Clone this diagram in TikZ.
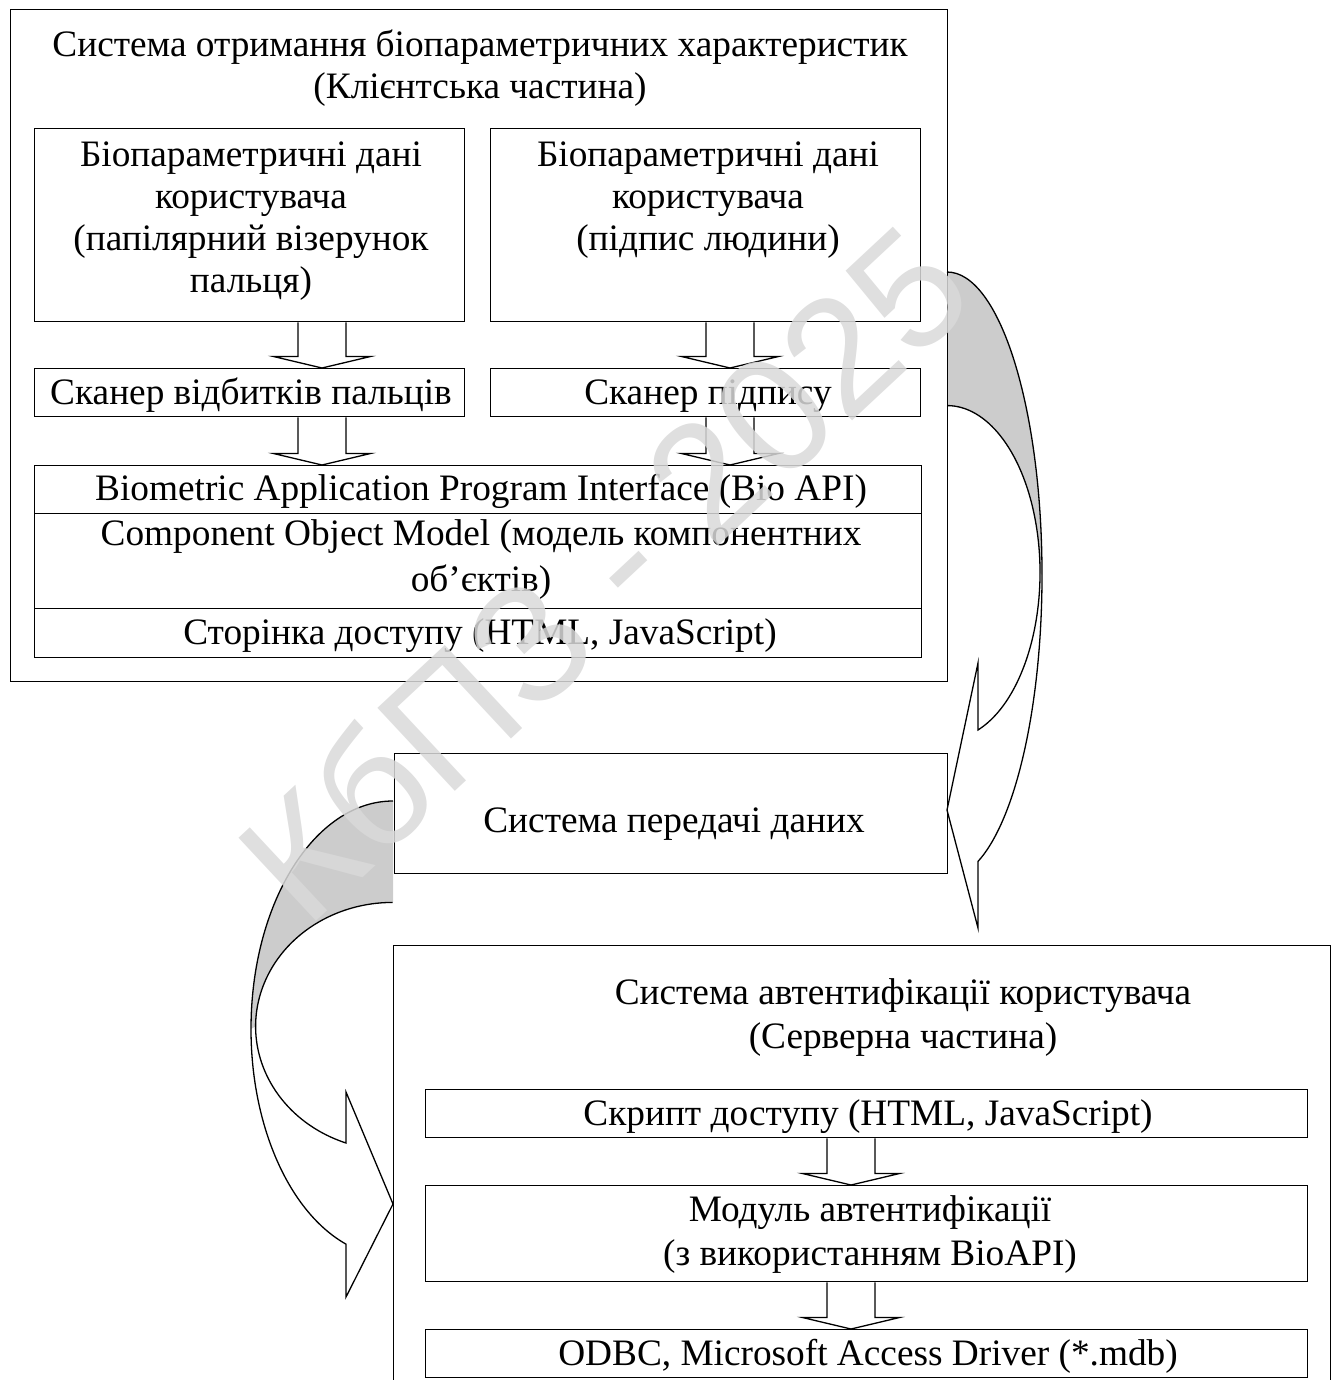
\documentclass[tikz,border=0pt]{standalone}
\usepackage{fontspec}
\setmainfont{Liberation Serif}
\newfontfamily\wmfont{Liberation Sans}
\usetikzlibrary{calc}
\newcommand{\blkarrow}[3]{%
  \draw[barrow] let \p1=(#2.south), \p2=(#3.north) in
    (#1pt-24pt,\y1) -- (#1pt-24pt,\y2+11.5pt) -- (#1pt-48.5pt,\y2+11.5pt) -- (#1pt,\y2)
    -- (#1pt+48.5pt,\y2+11.5pt) -- (#1pt+24pt,\y2+11.5pt) -- (#1pt+24pt,\y1);}
\begin{document}
\begin{tikzpicture}[x=1pt,y=1pt,
  box/.style={draw, line width=1.3pt, inner sep=0pt, anchor=north west},
  lbl/.style={inner sep=0pt, font=\fontsize{37.3}{42}\selectfont, align=center},
  barrow/.style={draw, line width=1.3pt, fill=white, line join=miter},
  curv/.style={draw, line width=1.3pt, line join=miter},
  shade/.style={fill=black!20},
  wm/.style={inner sep=0pt, font=\wmfont\fontsize{165}{165}\selectfont, text=black!15, text opacity=0.85}]
\useasboundingbox (0,0) rectangle (1336,-1380);

% curved arrows: shaded backs
\fill[shade] (947,-272) arc[start angle=90, end angle=0, x radius=95, y radius=303]
  -- (1040,-573) arc[start angle=0, end angle=90, x radius=93, y radius=167] -- cycle;
\fill[shade] (393,-801) arc[start angle=90, end angle=180, x radius=142, y radius=228]
  -- (256,-1026) arc[start angle=180, end angle=90, x radius=137, y radius=124] -- cycle;

% client part
\node[box, minimum width=937, minimum height=672] (client) at (10,-9) {};
\node[box, minimum width=430, minimum height=193] (dataA) at (34,-128) {};
\node[box, minimum width=430, minimum height=193] (dataB) at (490,-128) {};
\node[box, minimum width=430, minimum height=48] (scanA) at (34,-368) {};
\node[box, minimum width=430, minimum height=48] (scanB) at (490,-368) {};
\node[box, minimum width=887, minimum height=48] (bioapi) at (34,-465) {};
\node[box, minimum width=887, minimum height=95] (com) at (34,-513) {};
\node[box, minimum width=887, minimum height=49] (page) at (34,-608) {};

\node[lbl] (tTitle) at (480,-69) {\strut Система отримання біопараметричних характеристик\\(Клієнтська частина)\strut};
\node[lbl] (tDataA) at (251,-221) {\strut Біопараметричні дані\\користувача\\(папілярний візерунок\\пальця)\strut};
\node[lbl] (tDataB) at (708,-200) {\strut Біопараметричні дані\\користувача\\(підпис людини)\strut};
\node[lbl] (tScanA) at (251,-396) {\strut Сканер відбитків пальців};
\node[lbl] (tScanB) at (708,-396) {\strut Сканер підпису};
\node[lbl] (tBio) at (481,-492) {\strut Biometric Application Program Interface (Bio API)};
\node[lbl] (tCom) at (481,-560) {\strut Component Object Model (модель компонентних\\[4pt]об’єктів)\strut};
\node[lbl] (tPage) at (480,-636) {\strut Сторінка доступу (HTML, JavaScript)};

\blkarrow{322}{dataA}{scanA}
\blkarrow{730}{dataB}{scanB}
\blkarrow{322}{scanA}{bioapi}
\blkarrow{730}{scanB}{bioapi}

% data transfer
\node[box, minimum width=553, minimum height=120] (transfer) at (394,-753) {};
\node[lbl] (tTransfer) at (674,-824) {\strut Система передачі даних};

% server part
\node[box, minimum width=937, minimum height=440] (server) at (393,-945) {};
\node[box, minimum width=882, minimum height=48] (script) at (425,-1089) {};
\node[box, minimum width=882, minimum height=96] (module) at (425,-1185) {};
\node[box, minimum width=882, minimum height=48] (odbc) at (425,-1329) {};
\node[lbl] (tServer) at (903,-1018) {\strut Система автентифікації користувача\\[2pt](Серверна частина)\strut};
\node[lbl] (tScript) at (868,-1117) {\strut Скрипт доступу (HTML, JavaScript)};
\node[lbl] (tModule) at (870,-1235) {\strut Модуль автентифікації\\[2pt](з використанням BioAPI)\strut};
\node[lbl] (tOdbc) at (868,-1357) {\strut ODBC, Microsoft Access Driver (*.mdb)};

\blkarrow{851}{script}{module}
\blkarrow{851}{module}{odbc}

% curved arrows: outlines
\draw[curv] (947,-272) arc[start angle=90, end angle=-70.96, x radius=95, y radius=303]
  -- (978,-928) -- (947,-810) -- (978,-663) -- (978,-730)
  arc[start angle=-70.53, end angle=90, x radius=93, y radius=167];
\draw[curv] (393,-801) arc[start angle=90, end angle=250.7, x radius=142, y radius=228]
  -- (346,-1297) -- (393,-1204) -- (346,-1092) -- (346,-1143)
  arc[start angle=250.1, end angle=90, x radius=137, y radius=124];

% watermark
\node[wm, rotate=43] (wmark) at (603,-572) {КбПЗ - 2025};
\end{tikzpicture}
\end{document}
